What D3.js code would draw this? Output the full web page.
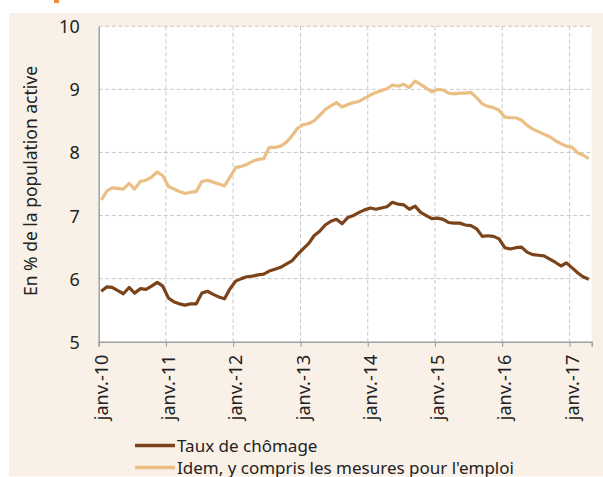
<html>
  <head>
    <meta charset="utf-8">
    <style>
      body { margin: 0; background: #fff; }
      text { font-family: "Noto Sans", sans-serif; fill: #222; }
    </style>
  </head>
  <body>
    <div id="vis"></div>
    <script src="https://d3js.org/d3.v7.min.js"></script>
    <script>
      // monthly points, janv. 2010 -> avr. 2017
      const months = d3.timeMonth.range(new Date(2010, 0, 1), new Date(2017, 4, 1))
      const chomage = [
        5.80, 5.87, 5.86, 5.81, 5.76, 5.86, 5.77, 5.84, 5.83, 5.88, 5.94, 5.88,
        5.69, 5.63, 5.60, 5.58, 5.60, 5.60, 5.77, 5.80, 5.75, 5.71, 5.68, 5.84,
        5.96, 6.00, 6.03, 6.04, 6.06, 6.07, 6.12, 6.15, 6.18, 6.23, 6.28, 6.38,
        6.47, 6.56, 6.68, 6.75, 6.85, 6.91, 6.94, 6.87, 6.97, 7.00, 7.05, 7.09,
        7.12, 7.10, 7.12, 7.14, 7.21, 7.18, 7.17, 7.10, 7.15, 7.05, 7.00, 6.95,
        6.96, 6.94, 6.89, 6.88, 6.88, 6.85, 6.84, 6.79, 6.67, 6.68, 6.67, 6.63,
        6.49, 6.47, 6.49, 6.50, 6.42, 6.38, 6.37, 6.36, 6.31, 6.26, 6.20, 6.25,
        6.17, 6.09, 6.03, 5.99
      ]
      const chomageMesures = [
        7.25, 7.39, 7.44, 7.43, 7.42, 7.51, 7.42, 7.54, 7.56, 7.61, 7.69, 7.63,
        7.46, 7.42, 7.38, 7.35, 7.37, 7.38, 7.54, 7.56, 7.53, 7.50, 7.47, 7.61,
        7.76, 7.78, 7.81, 7.86, 7.89, 7.90, 8.08, 8.08, 8.10, 8.16, 8.26, 8.38,
        8.44, 8.46, 8.50, 8.59, 8.68, 8.74, 8.79, 8.72, 8.76, 8.79, 8.81, 8.86,
        8.91, 8.95, 8.98, 9.01, 9.07, 9.05, 9.08, 9.03, 9.13, 9.08, 9.02, 8.96,
        9.00, 8.99, 8.94, 8.93, 8.94, 8.94, 8.95, 8.87, 8.77, 8.73, 8.71, 8.67,
        8.56, 8.55, 8.55, 8.51, 8.43, 8.37, 8.33, 8.29, 8.25, 8.19, 8.14, 8.10,
        8.08, 7.99, 7.96, 7.90
      ]
      const yTicks = [5, 6, 7, 8, 9, 10]
      const xTickLabels = ['janv.-10', 'janv.-11', 'janv.-12', 'janv.-13', 'janv.-14', 'janv.-15', 'janv.-16', 'janv.-17']
      const seriesNames = ['Taux de chômage', "Idem, y compris les mesures pour l'emploi"]
      const colors = ['#7b431a', '#ebbf84']

      const width = 603, height = 477
      const mLeft = 98.7, mRight = 591.7, mTop = 26.3, mBottom = 341.7

      const svg = d3.select('#vis').append('svg').attr('width', width).attr('height', height)

      // fond beige
      svg.append('rect').attr('x', 9).attr('y', 13).attr('width', width - 9).attr('height', 463.5).attr('fill', '#f9f1e7')
      svg.append('rect').attr('x', 54).attr('y', 0).attr('width', 5).attr('height', 3).attr('fill', '#ec8b3d')
      svg.append('rect').attr('x', mLeft).attr('y', mTop).attr('width', mRight - mLeft).attr('height', mBottom - mTop).attr('fill', '#fff')

      const x = d3.scaleTime()
              .domain([new Date(2010, 0, 1), new Date(2017, 4, 1)])
              .range([mLeft, mRight])
      const y = d3.scaleLinear()
              .domain([5, 10])
              .range([mBottom, mTop])
      const yearTicks = d3.timeYear.range(new Date(2010, 0, 1), new Date(2017, 1, 1))

      // grille
      svg.append('g')
              .selectAll('line')
              .data(yTicks.slice(1))
              .join('line')
              .attr('x1', mLeft).attr('x2', mRight)
              .attr('y1', d => y(d)).attr('y2', d => y(d))
              .attr('stroke', '#c8c8c8').attr('stroke-dasharray', '4,2.5')
      svg.append('g')
              .selectAll('line')
              .data(yearTicks.slice(1))
              .join('line')
              .attr('x1', d => x(d)).attr('x2', d => x(d))
              .attr('y1', mTop).attr('y2', mBottom)
              .attr('stroke', '#c8c8c8').attr('stroke-dasharray', '4,2.5')

      // axes
      const xAxis = svg.append('g')
              .attr('transform', 'translate(0,' + mBottom + ')')
              .call(d3.axisBottom(x).tickValues(yearTicks).tickSize(5).tickFormat((d, i) => xTickLabels[i]))
      xAxis.select('.domain').attr('stroke', '#a0a0a0').attr('stroke-width', 1.5)
      xAxis.selectAll('.tick line').attr('stroke', '#a0a0a0').attr('stroke-width', 1.2)
      xAxis.selectAll('.tick text')
              .attr('font-size', 18)
              .attr('text-anchor', 'end')
              .attr('transform', 'rotate(-90)')
              .attr('x', -13)
              .attr('y', 0)
              .attr('dy', 8.5)

      const yAxis = svg.append('g')
              .attr('transform', 'translate(' + mLeft + ',0)')
              .call(d3.axisLeft(y).tickValues(yTicks).tickSize(0).tickPadding(19).tickFormat(d3.format('d')))
      yAxis.select('.domain').attr('stroke', '#a0a0a0').attr('stroke-width', 1.5)
      yAxis.selectAll('.tick text').attr('font-size', 18).attr('dy', 6.5)
      svg.selectAll('.tick text').attr('fill', '#222').style('font-family', '"Noto Sans", sans-serif')

      svg.append('text')
              .attr('transform', 'translate(37,181) rotate(-90)')
              .attr('text-anchor', 'middle')
              .attr('font-size', 17.5)
              .text('En % de la population active')

      // courbes
      const line = d3.line()
              .x((d, i) => x(d3.timeDay.offset(months[i], 14)))
              .y(d => y(d))
      svg.selectAll('.serie')
              .data([chomage, chomageMesures])
              .join('path')
              .attr('class', 'serie')
              .attr('d', d => line(d))
              .attr('fill', 'none')
              .attr('stroke', (d, i) => colors[i])
              .attr('stroke-width', 3.2)
              .attr('stroke-linejoin', 'round')

      // légende
      const leg = svg.selectAll('.leg')
              .data(seriesNames)
              .join('g')
              .attr('class', 'leg')
              .attr('transform', (d, i) => 'translate(135,' + (445.5 + i * 22) + ')')
      leg.append('line')
              .attr('x1', 0).attr('x2', 40)
              .attr('stroke', (d, i) => colors[i])
              .attr('stroke-width', 3.5)
      leg.append('text')
              .attr('x', 42)
              .attr('dy', 6)
              .attr('font-size', 17)
              .text(d => d)
    </script>
  </body>
</html>
